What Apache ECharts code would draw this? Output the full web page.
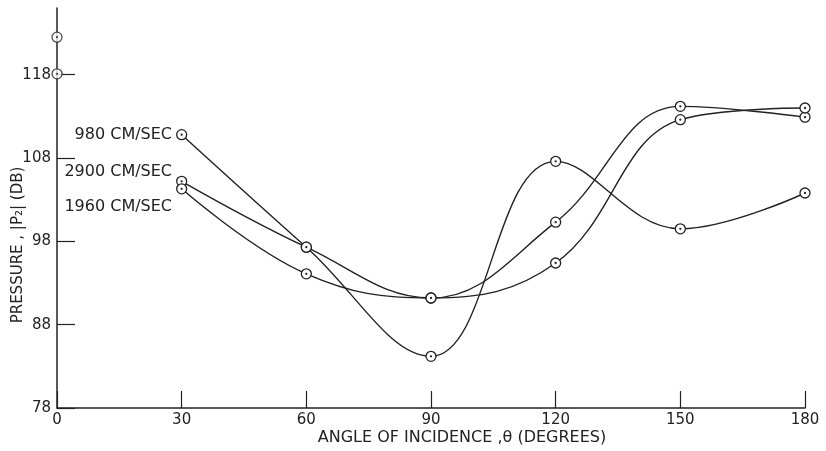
<!DOCTYPE html>
<html>
<head>
<meta charset="utf-8">
<script src="https://cdn.jsdelivr.net/npm/echarts@6/dist/echarts.min.js"></script>
<style>
  html,body{margin:0;padding:0;background:#fff;}
  #chart{width:826px;height:451px;}
</style>
</head>
<body>
<div id="chart"></div>
<script>
// angles (degrees)
var angles = [30, 60, 90, 120, 150, 180];
// pressure |P2| in dB for each speed
var p980 = [110.8, 97.3, 84.2, 107.6, 99.5, 103.8];
var p2900 = [105.2, 97.3, 91.2, 100.3, 114.2, 112.9];
var p1960 = [104.3, 94.1, 91.2, 95.4, 112.6, 114.0];
// lone points at normal incidence (0 deg)
var zeroAngle = [0, 0];
var zeroP = [122.5, 118.1];
// axis ticks
var yTicks = [78, 88, 98, 108, 118];
var xTicks = [0, 30, 60, 90, 120, 150, 180];

var ink = '#222';
var font = 'DejaVu Sans';
// circle with a dot in the middle
var ring = 'path://M10,0A10,10 0 1,1 -10,0A10,10 0 1,1 10,0ZM1,0A1,1 0 1,1 -1,0A1,1 0 1,1 1,0Z';

function pairs(xs, ys){
  var out = [];
  for (var i = 0; i < xs.length; i++) out.push([xs[i], ys[i]]);
  return out;
}

function curve(name, vals, off){
  return {
    name: name,
    type: 'line',
    smooth: 0.4,
    data: pairs(angles, vals),
    symbol: ring,
    symbolSize: 10,
    showAllSymbol: true,
    lineStyle: {color: ink, width: 1.4},
    itemStyle: {color: '#fff', borderColor: ink, borderWidth: 1.3},
    label: {
      show: true,
      position: 'left',
      distance: 4,
      offset: off,
      color: ink,
      fontFamily: font,
      fontSize: 16,
      formatter: function(p){ return p.dataIndex === 0 ? name : ''; }
    },
    z: 3
  };
}

var myChart = echarts.init(document.getElementById('chart'));
var option = {
  backgroundColor: '#fff',
  animation: false,
  grid: {left: 57, right: 21, top: 8, bottom: 43, containLabel: false, outerBoundsMode: 'none'},
  xAxis: {
    type: 'value',
    min: 0, max: 180, interval: 30,
    name: 'ANGLE OF INCIDENCE ,\u03b8 (DEGREES)',
    nameLocation: 'middle',
    nameGap: 22,
    nameMoveOverlap: false,
    nameTextStyle: {color: ink, fontFamily: font, fontSize: 16, padding: [0, 0, 0, 62]},
    splitLine: {show: false},
    axisLine: {lineStyle: {color: ink, width: 1.5}},
    axisTick: {inside: true, length: 17, lineStyle: {color: ink, width: 1.2}},
    axisLabel: {color: ink, fontFamily: font, fontSize: 15, margin: 5, customValues: xTicks}
  },
  yAxis: {
    type: 'value',
    min: 78, max: 126, interval: 10,
    name: 'PRESSURE , |P\u2082| (DB)',
    nameLocation: 'middle',
    nameGap: 31,
    nameMoveOverlap: false,
    nameTextStyle: {color: ink, fontFamily: font, fontSize: 15, padding: [0, 74, 0, 0]},
    splitLine: {show: false},
    axisLine: {show: true, lineStyle: {color: ink, width: 1.5}},
    axisTick: {show: true, inside: true, length: 18, customValues: yTicks, lineStyle: {color: ink, width: 1.2}},
    axisLabel: {color: ink, fontFamily: font, fontSize: 15, margin: 6, customValues: yTicks}
  },
  series: [
    curve('980 CM/SEC', p980, [0, 0]),
    curve('2900 CM/SEC', p2900, [0, -9]),
    curve('1960 CM/SEC', p1960, [0, 18]),
    {
      name: 'normal',
      type: 'scatter',
      data: pairs(zeroAngle, zeroP),
      symbol: ring,
      symbolSize: 10,
      itemStyle: {color: '#fff', borderColor: ink, borderWidth: 1.3},
      z: 4
    }
  ]
};
myChart.setOption(option);
</script>
</body>
</html>
